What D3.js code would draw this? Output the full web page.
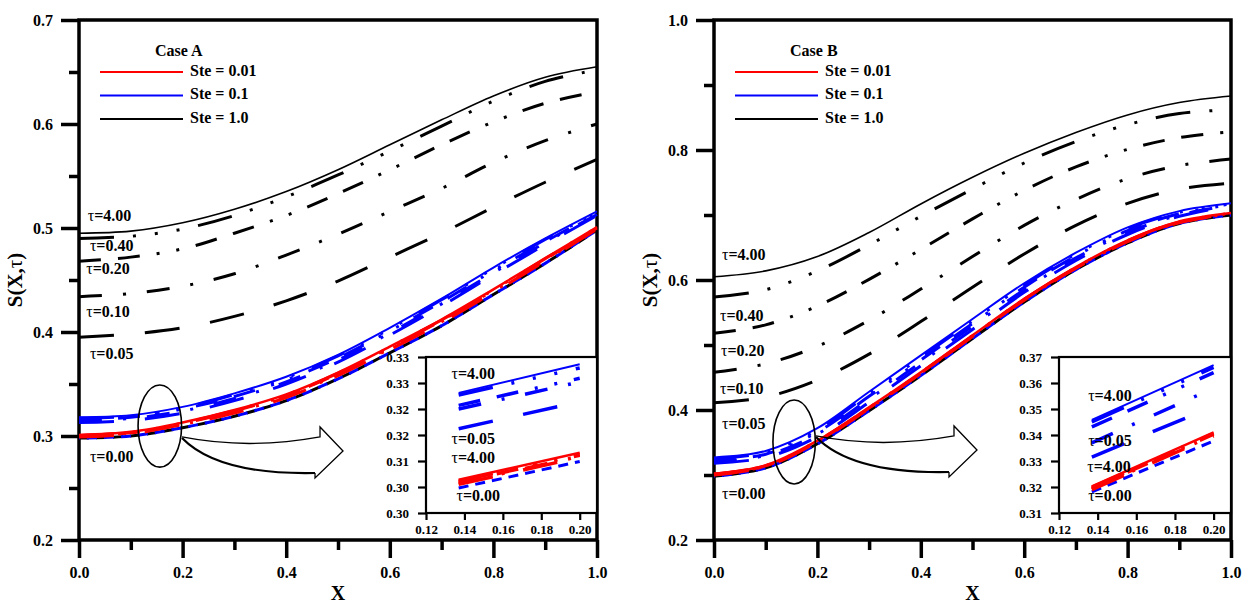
<!DOCTYPE html>
<html>
<head>
<meta charset="utf-8">
<script src="https://cdn.jsdelivr.net/npm/d3@7"></script>
<style>
  body { margin: 0; background: #fff; }
  svg text { font-family: "Liberation Serif", "Times New Roman", serif; font-weight: bold; }
</style>
</head>
<body>
<svg id="chart" width="1248" height="603"></svg>
<script>
// ---- data ----
const xGrid = [0, 0.1, 0.2, 0.3, 0.4, 0.5, 0.6, 0.7, 0.8, 0.9, 1.0];
const tauKeys = ["4.00", "0.40", "0.20", "0.10", "0.05"];

// Case A, Ste = 1.0 (black)
const aK400 = [0.495, 0.497, 0.505, 0.518, 0.535, 0.556, 0.580, 0.604, 0.627, 0.645, 0.655];
const aK040 = [0.490, 0.492, 0.499, 0.512, 0.530, 0.551, 0.574, 0.598, 0.622, 0.641, 0.652];
const aK020 = [0.468, 0.472, 0.480, 0.495, 0.512, 0.533, 0.556, 0.580, 0.602, 0.620, 0.631];
const aK010 = [0.434, 0.437, 0.444, 0.456, 0.474, 0.494, 0.516, 0.538, 0.563, 0.584, 0.600];
const aK005 = [0.395, 0.398, 0.404, 0.415, 0.430, 0.449, 0.472, 0.495, 0.520, 0.544, 0.566];
// Case A, Ste = 0.1 (blue)
const aB400 = [0.318, 0.320, 0.328, 0.341, 0.357, 0.378, 0.404, 0.432, 0.462, 0.490, 0.516];
const aB040 = [0.317, 0.319, 0.327, 0.340, 0.356, 0.377, 0.403, 0.431, 0.461, 0.489, 0.515];
const aB020 = [0.316, 0.318, 0.326, 0.338, 0.354, 0.375, 0.401, 0.429, 0.459, 0.487, 0.514];
const aB010 = [0.315, 0.317, 0.324, 0.336, 0.352, 0.373, 0.399, 0.427, 0.457, 0.486, 0.513];
const aB005 = [0.313, 0.315, 0.322, 0.334, 0.350, 0.371, 0.397, 0.425, 0.455, 0.484, 0.512];
// Case A, Ste = 0.01 (red)
const aR400 = [0.301, 0.304, 0.313, 0.325, 0.340, 0.361, 0.386, 0.412, 0.441, 0.471, 0.501];
const aR040 = [0.3005, 0.3035, 0.3125, 0.3245, 0.3395, 0.3605, 0.3855, 0.4115, 0.4405, 0.4705, 0.5005];
const aR020 = [0.300, 0.303, 0.312, 0.324, 0.339, 0.360, 0.385, 0.411, 0.440, 0.470, 0.500];
const aR010 = [0.300, 0.303, 0.311, 0.323, 0.338, 0.359, 0.384, 0.410, 0.439, 0.469, 0.500];
const aR005 = [0.299, 0.302, 0.311, 0.322, 0.337, 0.358, 0.383, 0.409, 0.438, 0.468, 0.499];
// Case A, tau = 0.00
const a000 = [0.298, 0.300, 0.308, 0.319, 0.334, 0.355, 0.380, 0.406, 0.436, 0.466, 0.498];

// Case B, Ste = 1.0 (black)
const bK400 = [0.605, 0.614, 0.636, 0.673, 0.717, 0.758, 0.795, 0.827, 0.854, 0.873, 0.883];
const bK040 = [0.574, 0.585, 0.614, 0.654, 0.698, 0.740, 0.780, 0.813, 0.839, 0.856, 0.862];
const bK020 = [0.518, 0.531, 0.560, 0.601, 0.647, 0.694, 0.738, 0.774, 0.801, 0.819, 0.828];
const bK010 = [0.458, 0.471, 0.498, 0.538, 0.586, 0.636, 0.684, 0.724, 0.756, 0.776, 0.786];
const bK005 = [0.411, 0.420, 0.446, 0.486, 0.536, 0.589, 0.640, 0.684, 0.718, 0.740, 0.749];
// Case B, Ste = 0.1 (blue)
const bB400 = [0.327, 0.337, 0.372, 0.428, 0.484, 0.540, 0.595, 0.642, 0.681, 0.706, 0.718];
const bB040 = [0.325, 0.335, 0.369, 0.425, 0.481, 0.537, 0.592, 0.640, 0.679, 0.704, 0.717];
const bB020 = [0.322, 0.332, 0.366, 0.421, 0.477, 0.533, 0.589, 0.637, 0.676, 0.702, 0.716];
const bB010 = [0.320, 0.330, 0.363, 0.417, 0.473, 0.529, 0.585, 0.634, 0.673, 0.700, 0.715];
const bB005 = [0.318, 0.327, 0.359, 0.412, 0.468, 0.524, 0.581, 0.630, 0.670, 0.698, 0.714];
// Case B, Ste = 0.01 (red)
const bR400 = [0.302, 0.315, 0.353, 0.404, 0.458, 0.515, 0.571, 0.620, 0.661, 0.690, 0.703];
const bR040 = [0.3015, 0.3145, 0.3525, 0.4035, 0.4575, 0.5145, 0.5705, 0.6195, 0.6605, 0.6895, 0.7025];
const bR020 = [0.301, 0.314, 0.352, 0.403, 0.457, 0.514, 0.570, 0.619, 0.660, 0.689, 0.702];
const bR010 = [0.3005, 0.3135, 0.3515, 0.4025, 0.4565, 0.5135, 0.5695, 0.6185, 0.6595, 0.6885, 0.7015];
const bR005 = [0.300, 0.313, 0.351, 0.402, 0.456, 0.513, 0.569, 0.618, 0.659, 0.688, 0.701];
const b000 = [0.298, 0.311, 0.348, 0.399, 0.453, 0.510, 0.566, 0.616, 0.657, 0.687, 0.700];

// insets (X from 0.137 to 0.20)
const insetX = [0.137, 0.200];
const iaB = [[0.3231, 0.3286], [0.3227, 0.3279], [0.3207, 0.3259], [0.3200, 0.3252], [0.3162, 0.3214]];
const iaR = [[0.3064, 0.3116], [0.3061, 0.3113], [0.3059, 0.3111], [0.3057, 0.3109], [0.3055, 0.3107]];
const ia000 = [0.3048, 0.3099];
const ibB = [[0.3458, 0.3669], [0.3450, 0.3660], [0.3431, 0.3640], [0.3370, 0.3580], [0.3315, 0.3510]];
const ibR = [[0.3202, 0.3410], [0.3199, 0.3406], [0.3196, 0.3403], [0.3193, 0.3400], [0.3190, 0.3397]];
const ib000 = [0.3181, 0.3377];

// ticks
const mainXTicks = [0, 0.2, 0.4, 0.6, 0.8, 1.0];
const mainXMinor = [0.1, 0.3, 0.5, 0.7, 0.9];
const aYTicks = [0.2, 0.3, 0.4, 0.5, 0.6, 0.7];
const aYMinor = [0.25, 0.35, 0.45, 0.55, 0.65];
const bYTicks = [0.2, 0.4, 0.6, 0.8, 1.0];
const bYMinor = [0.3, 0.5, 0.7, 0.9];
const insetXTicks = [0.12, 0.14, 0.16, 0.18, 0.20];
const iaYTicks = [0.300, 0.305, 0.310, 0.315, 0.320, 0.325, 0.330];
const iaYLabels = ["0.30", "0.30", "0.31", "0.32", "0.32", "0.33", "0.33"];
const ibYTicks = [0.31, 0.32, 0.33, 0.34, 0.35, 0.36, 0.37];
const ibYLabels = ["0.31", "0.32", "0.33", "0.34", "0.35", "0.36", "0.37"];

const legendItems = [["Ste = 0.01", "#ff0000"], ["Ste = 0.1", "#0000ff"], ["Ste = 1.0", "#000000"]];

// line styles for each tau
const dash = {
  "4.00": null,
  "0.40": "35,19,3,19,3,19,3,19",
  "0.20": "22,17,22,17,3,17,3,17",
  "0.10": "23,21,3,21",
  "0.05": "35,31",
  "0.00": "10,7"
};

const svg = d3.select("#chart");

function tauLabel(g, px, py, val) {
  const t = g.append("text").attr("x", px).attr("y", py)
    .attr("dominant-baseline", "middle").attr("font-size", 16);
  t.append("tspan").attr("font-weight", "normal").text("τ");
  t.append("tspan").text("=" + val);
}

function drawPanel(p) {
  const g = svg.append("g");
  const x = d3.scaleLinear([0, 1], [p.x0, p.x1]);
  const y = d3.scaleLinear(p.yDomain, [540, 20]);
  const line = d3.line().x((d, i) => x(xGrid[i])).y(d => y(d)).curve(d3.curveCatmullRom.alpha(0.5));

  // axes
  const styleAxis = (a, w) => {
    a.select(".domain").remove();
    a.selectAll(".tick line").attr("stroke-width", w);
    a.selectAll("text").attr("font-size", 16).attr("fill", "#000");
  };
  g.append("g").attr("transform", "translate(0,540)")
    .call(d3.axisBottom(x).tickValues(mainXTicks).tickSize(18).tickPadding(9).tickFormat(d3.format(".1f")))
    .call(a => styleAxis(a, 3.5));
  g.append("g").attr("transform", "translate(0,540)")
    .call(d3.axisBottom(x).tickValues(mainXMinor).tickSize(10).tickFormat(""))
    .call(a => styleAxis(a, 3.5));
  g.append("g").attr("transform", `translate(${p.x0},0)`)
    .call(d3.axisLeft(y).tickValues(p.yTicks).tickSize(18).tickPadding(8).tickFormat(d3.format(".1f")))
    .call(a => styleAxis(a, 3.5));
  g.append("g").attr("transform", `translate(${p.x0},0)`)
    .call(d3.axisLeft(y).tickValues(p.yMinor).tickSize(10).tickFormat(""))
    .call(a => styleAxis(a, 3.5));
  g.append("rect").attr("x", p.x0).attr("y", 20).attr("width", p.x1 - p.x0).attr("height", 520)
    .attr("fill", "none").attr("stroke", "#000").attr("stroke-width", 3.5);

  // axis titles
  const yt = g.append("text").attr("transform", `translate(${p.x0 - 62},280) rotate(-90)`)
    .attr("text-anchor", "middle").attr("dominant-baseline", "middle").attr("font-size", 21);
  yt.append("tspan").text("S(X,");
  yt.append("tspan").attr("font-weight", "normal").text("τ");
  yt.append("tspan").text(")");
  g.append("text").attr("x", x(0.5)).attr("y", 595).attr("text-anchor", "middle")
    .attr("dominant-baseline", "middle").attr("font-size", 20).text("X");

  // curves
  const curves = g.append("g").attr("fill", "none");
  p.blacks.forEach((s, i) => {
    curves.append("path").attr("d", line(s)).attr("stroke", "#000")
      .attr("stroke-width", i === 0 ? 1.6 : 3).attr("stroke-dasharray", dash[tauKeys[i]]);
  });
  curves.append("path").attr("d", line(p.init)).attr("stroke", "#000").attr("stroke-width", 3)
    .attr("stroke-dasharray", dash["0.00"]);
  curves.append("path").attr("d", line(p.init)).attr("stroke", "#0000ff").attr("stroke-width", 3)
    .attr("stroke-dasharray", dash["0.00"]).attr("stroke-dashoffset", 9);
  p.blues.slice().reverse().forEach((s, j) => {
    const i = p.blues.length - 1 - j;
    curves.append("path").attr("d", line(s)).attr("stroke", "#0000ff")
      .attr("stroke-width", i === 0 ? 2 : 3).attr("stroke-dasharray", dash[tauKeys[i]]);
  });
  p.reds.slice().reverse().forEach((s, j) => {
    const i = p.reds.length - 1 - j;
    curves.append("path").attr("d", line(s)).attr("stroke", "#ff0000")
      .attr("stroke-width", i === 0 ? 2.5 : 3).attr("stroke-dasharray", dash[tauKeys[i]]);
  });

  // tau labels
  p.labels.forEach(([val, lx, ly]) => tauLabel(g, x(lx), y(ly), val));

  // legend
  const lg = g.append("g").attr("transform", `translate(${p.x0},20)`);
  lg.append("text").attr("x", 76).attr("y", 32).attr("dominant-baseline", "middle")
    .attr("font-size", 16).text(p.caseName);
  legendItems.forEach(([name, col], i) => {
    const ly = 52 + i * 23.5;
    lg.append("line").attr("x1", 21).attr("x2", 104).attr("y1", ly).attr("y2", ly)
      .attr("stroke", col).attr("stroke-width", 2.2);
    lg.append("text").attr("x", 111).attr("y", ly).attr("dominant-baseline", "middle")
      .attr("font-size", 16).text(name);
  });

  // ellipse + block arrow
  const [ecx, ecy, erx, ery] = p.ellipse;
  g.append("ellipse").attr("cx", x(ecx)).attr("cy", y(ecy))
    .attr("rx", x(ecx + erx) - x(ecx)).attr("ry", y(ecy) - y(ecy + ery))
    .attr("fill", "none").attr("stroke", "#000").attr("stroke-width", 1.6);
  const tx = x(p.arrowTip[0]), ty = y(p.arrowTip[1]);
  const ap = d3.path();
  ap.moveTo(tx - 161, ty - 14);
  ap.quadraticCurveTo(tx - 95, ty - 1, tx - 23, ty - 14);
  ap.lineTo(tx - 23, ty - 24);
  ap.lineTo(tx, ty);
  ap.lineTo(tx - 28, ty + 27);
  ap.lineTo(tx - 28, ty + 22);
  g.append("path").attr("d", ap.toString()).attr("fill", "none").attr("stroke", "#000").attr("stroke-width", 1.3);
  const lp = d3.path();
  lp.moveTo(tx - 28, ty + 22);
  lp.quadraticCurveTo(tx - 125, ty + 24, tx - 161, ty - 13);
  g.append("path").attr("d", lp.toString()).attr("fill", "none").attr("stroke", "#000").attr("stroke-width", 2.2);

  // inset
  const ins = p.inset;
  const ix = d3.scaleLinear([0.12, 0.209], [ins.x0, p.x1]);
  const iy = d3.scaleLinear(ins.yDomain, [513, 357]);
  const ig = g.append("g");
  ig.append("rect").attr("x", ins.x0).attr("y", 357).attr("width", p.x1 - ins.x0).attr("height", 156)
    .attr("fill", "#fff").attr("stroke", "#000").attr("stroke-width", 2.2);
  const iline = d3.line().x((d, i) => ix(insetX[i])).y(d => iy(d));
  const styleIn = a => {
    a.select(".domain").remove();
    a.selectAll(".tick line").attr("stroke-width", 2.2);
    a.selectAll("text").attr("font-size", 13).attr("fill", "#000");
  };
  ig.append("g").attr("transform", "translate(0,513)")
    .call(d3.axisBottom(ix).tickValues(insetXTicks).tickSize(7).tickPadding(5).tickFormat(d3.format(".2f")))
    .call(styleIn);
  ig.append("g").attr("transform", `translate(${ins.x0},0)`)
    .call(d3.axisLeft(iy).tickValues(ins.yTicks).tickSize(8).tickPadding(9).tickFormat((d, i) => ins.yLabels[i]))
    .call(styleIn);
  const icurves = ig.append("g").attr("fill", "none");
  icurves.append("path").attr("d", iline(ins.init)).attr("stroke", "#0000ff").attr("stroke-width", 3)
    .attr("stroke-dasharray", dash["0.00"]);
  ins.blues.slice().reverse().forEach((s, j) => {
    const i = ins.blues.length - 1 - j;
    icurves.append("path").attr("d", iline(s)).attr("stroke", "#0000ff")
      .attr("stroke-width", i === 0 ? 2 : 3.5).attr("stroke-dasharray", dash[tauKeys[i]]);
  });
  ins.reds.slice().reverse().forEach((s, j) => {
    const i = ins.reds.length - 1 - j;
    icurves.append("path").attr("d", iline(s)).attr("stroke", "#ff0000")
      .attr("stroke-width", i === 0 ? 2.5 : 3.5).attr("stroke-dasharray", dash[tauKeys[i]]);
  });
  ins.labels.forEach(([val, lx, ly]) => tauLabel(ig, ix(lx), iy(ly), val));
}

drawPanel({
  x0: 79, x1: 597, yDomain: [0.2, 0.7], yTicks: aYTicks, yMinor: aYMinor, caseName: "Case A",
  blacks: [aK400, aK040, aK020, aK010, aK005],
  blues: [aB400, aB040, aB020, aB010, aB005],
  reds: [aR400, aR040, aR020, aR010, aR005],
  init: a000,
  labels: [["4.00", 0.017, 0.5106], ["0.40", 0.021, 0.4817], ["0.20", 0.014, 0.4596],
           ["0.10", 0.014, 0.4183], ["0.05", 0.021, 0.3779], ["0.00", 0.021, 0.2788]],
  ellipse: [0.156, 0.3096, 0.042, 0.0395],
  arrowTip: [0.5097, 0.2856],
  inset: {
    x0: 426, yDomain: [0.300, 0.330], yTicks: iaYTicks, yLabels: iaYLabels,
    blues: iaB, reds: iaR, init: ia000,
    labels: [["4.00", 0.1333, 0.3265], ["0.05", 0.1333, 0.3140], ["4.00", 0.1333, 0.3104], ["0.00", 0.1359, 0.3031]]
  }
});

drawPanel({
  x0: 714, x1: 1231, yDomain: [0.2, 1.0], yTicks: bYTicks, yMinor: bYMinor, caseName: "Case B",
  blacks: [bK400, bK040, bK020, bK010, bK005],
  blues: [bB400, bB040, bB020, bB010, bB005],
  reds: [bR400, bR040, bR020, bR010, bR005],
  init: b000,
  labels: [["4.00", 0.0155, 0.6369], ["0.40", 0.0116, 0.5431], ["0.20", 0.0135, 0.4892],
           ["0.10", 0.0116, 0.4308], ["0.05", 0.0155, 0.3769], ["0.00", 0.0155, 0.2692]],
  ellipse: [0.155, 0.3508, 0.041, 0.0646],
  arrowTip: [0.5087, 0.3385],
  inset: {
    x0: 1059, yDomain: [0.31, 0.37], yTicks: ibYTicks, yLabels: ibYLabels,
    blues: ibB, reds: ibR, init: ib000,
    labels: [["4.00", 0.1351, 0.3546], ["0.05", 0.1351, 0.3373], ["4.00", 0.1346, 0.3273], ["0.00", 0.1351, 0.3162]]
  }
});
</script>
</body>
</html>
